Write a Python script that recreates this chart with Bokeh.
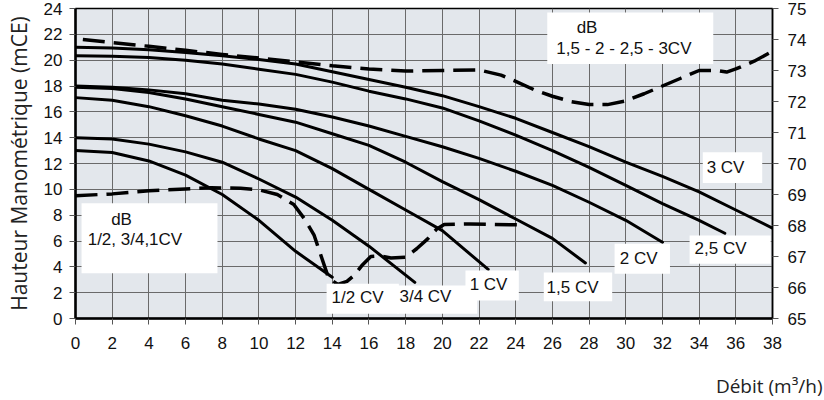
from bokeh.plotting import figure
from bokeh.models import Range1d, LinearAxis, Title, FixedTicker
from bokeh.core.properties import value
from bokeh.embed import file_html
from bokeh.resources import INLINE

# ---- Pump curves: débit (m3/h) -> hauteur (mCE) ----
q_05 = [0, 2, 4, 6, 8, 10, 12, 14]
h_05 = [13.0, 12.85, 12.2, 11.1, 9.6, 7.6, 5.2, 3.2]

q_075 = [0, 2, 4, 6, 8, 10, 12, 14, 16, 18.5]
h_075 = [14.0, 13.9, 13.5, 12.9, 12.1, 10.8, 9.4, 7.6, 5.6, 2.8]

q_1 = [0, 2, 4, 6, 8, 10, 12, 14, 16, 18, 20, 22.5]
h_1 = [17.1, 16.9, 16.4, 15.7, 14.9, 13.9, 13.0, 11.6, 10.0, 8.4, 6.8, 3.8]

q_15 = [0, 2, 4, 6, 8, 10, 12, 14, 16, 18, 20, 22, 24, 26, 27.8]
h_15 = [17.9, 17.8, 17.5, 17.0, 16.4, 15.8, 15.2, 14.3, 13.4, 12.1, 10.6, 9.2, 7.7, 6.2, 4.3]

q_2 = [0, 2, 4, 6, 8, 10, 12, 14, 16, 18, 20, 22, 24, 26, 28, 30, 32]
h_2 = [18.0, 17.9, 17.7, 17.4, 16.9, 16.6, 16.2, 15.6, 14.9, 14.1, 13.3, 12.4, 11.4, 10.3, 9.0, 7.6, 5.9]

q_25 = [0, 2, 4, 6, 8, 10, 12, 14, 16, 18, 20, 22, 24, 26, 28, 30, 32, 34, 35.4]
h_25 = [20.35, 20.3, 20.2, 20.0, 19.7, 19.3, 18.9, 18.3, 17.6, 17.0, 16.3, 15.3, 14.2, 13.0, 11.7, 10.3, 8.9, 7.6, 6.6]

q_3 = [0, 2, 4, 6, 8, 10, 12, 14, 16, 18, 20, 22, 24, 26, 28, 30, 32, 34, 36, 38, 38.8]
h_3 = [21.0, 20.95, 20.8, 20.6, 20.35, 20.05, 19.7, 19.1, 18.5, 17.9, 17.25, 16.4, 15.5, 14.4, 13.3, 12.1, 11.0, 9.8, 8.4, 7.0, 6.2]

# ---- Noise curves (dB) ----
q_db_small = [0, 2, 4, 6, 7.4, 9, 10, 11, 11.9, 12.5, 13.0, 13.4, 13.8, 14.3, 14.8, 15.2, 15.6, 16.1, 16.6, 17.2, 18, 18.6, 19.2, 19.7, 20.1, 21.5, 24.2]
db_small = [68.96, 69.02, 69.12, 69.18, 69.22, 69.2, 69.15, 69.0, 68.68, 68.2, 67.7, 67.0, 66.3, 66.1, 66.2, 66.4, 66.7, 67.0, 67.02, 66.95, 66.98, 67.25, 67.57, 67.89, 68.03, 68.05, 68.02]

q_db_big = [0.4, 2, 4, 6, 8, 10, 12, 14, 16, 18, 20, 22, 23.2, 24, 25, 26, 27, 28, 29, 30, 31, 32, 33, 34, 35, 35.5, 36, 37, 38, 39]
db_big = [74.0, 73.9, 73.78, 73.65, 73.52, 73.4, 73.28, 73.15, 73.05, 72.98, 73.0, 73.02, 72.85, 72.65, 72.38, 72.17, 72.0, 71.9, 71.9, 72.02, 72.25, 72.5, 72.75, 73.0, 73.0, 72.95, 73.05, 73.3, 73.62, 74.0]

x_ticks = list(range(0, 39, 2))
y_ticks = list(range(0, 25, 2))
db_ticks = list(range(65, 76))

curve_labels = ["1/2 CV", "3/4 CV", "1 CV", "1,5 CV", "2 CV", "2,5 CV", "3 CV"]
box_texts = ["dB", "1/2, 3/4,1CV", "dB", "1,5 - 2 - 2,5 - 3CV"]

FONT = "Liberation Sans"
TITLE_FONT = "Open Sans"

p = figure(width=824, height=400, x_range=Range1d(0, 38), y_range=Range1d(0, 24),
           output_backend="svg", toolbar_location=None, title=None,
           min_border_left=75, min_border_right=52, min_border_top=8, min_border_bottom=82)
p.border_fill_color = "white"
p.background_fill_color = "#e3e7ec"
p.outline_line_color = "black"
p.outline_line_width = 1.5

p.extra_y_ranges = {"db": Range1d(65, 75)}

# grid
p.xgrid.ticker = FixedTicker(ticks=x_ticks)
p.ygrid.ticker = FixedTicker(ticks=y_ticks)
for g in (p.xgrid, p.ygrid):
    g.grid_line_color = "#6a6a6a"
    g.grid_line_width = 1

# axes
bottom = p.xaxis[0]
left = p.yaxis[0]
bottom.ticker = FixedTicker(ticks=x_ticks)
left.ticker = FixedTicker(ticks=y_ticks)
right = LinearAxis(y_range_name="db", ticker=FixedTicker(ticks=db_ticks))
p.add_layout(right, "right")

for ax in (bottom, left, right):
    ax.major_label_text_font = FONT
    ax.major_label_text_font_size = "17px"
    ax.major_label_text_color = "#111111"
    ax.major_tick_in = 0
    ax.major_tick_out = 6
    ax.major_tick_line_color = "#555555"
    ax.minor_tick_line_color = None
    ax.axis_line_color = "black"
bottom.axis_line_width = 2.5
left.axis_line_width = 2.5
right.axis_line_width = 1.5
bottom.major_label_standoff = 12
left.major_label_standoff = 7
right.major_label_standoff = 9

left.axis_label = "Hauteur Manométrique (mCE)"
left.axis_label_text_font = TITLE_FONT
left.axis_label_text_font_size = "21px"
left.axis_label_text_font_style = "normal"
left.axis_label_text_color = "#222222"
left.axis_label_standoff = 8

# blank spacer label under the x axis, pushes the x title lower
bottom.axis_label = " "
bottom.axis_label_text_font_size = "12px"
bottom.axis_label_standoff = 0

# x title at bottom right
xt = Title(text="Débit (m³/h)", align="right", offset=-50, standoff=4,
           text_font=TITLE_FONT, text_font_size="19px", text_font_style="normal",
           text_color="#222222")
p.add_layout(xt, "below")

# pump curves
for qs, hs in [(q_05, h_05), (q_075, h_075), (q_1, h_1), (q_15, h_15),
               (q_2, h_2), (q_25, h_25), (q_3, h_3)]:
    p.line(qs, hs, line_color="black", line_width=3, line_join="round", line_cap="round")

# noise curves
p.line(q_db_small, db_small, y_range_name="db", line_color="black", line_width=3.5,
       line_dash="22 9", line_join="round")
p.line(q_db_big, db_big, y_range_name="db", line_color="black", line_width=3.5,
       line_dash="22 9", line_join="round")

# white label boxes
box_l = [0.33, 25.72, 34.2, 33.48, 29.39, 25.53, 21.26, 17.54, 13.69]
box_r = [7.74, 34.77, 37.44, 37.9, 32.41, 29.26, 24.17, 21.9, 17.63]
box_b = [3.51, 19.71, 10.5, 4.23, 3.46, 1.33, 1.39, 0.36, 0.36]
box_t = [8.92, 23.7, 12.87, 6.42, 5.78, 3.57, 3.72, 2.55, 2.69]
p.quad(left=box_l, right=box_r, bottom=box_b, top=box_t, fill_color="white", line_color=None)

lab_x = [15.38, 19.08, 22.52, 27.1, 30.7, 35.17, 35.44]
lab_y = [1.63, 1.70, 2.63, 2.4, 4.68, 5.42, 11.71]
p.text(x=lab_x, y=lab_y, text=curve_labels, text_font=value(FONT), text_font_size="17px",
       text_align="center", text_baseline="middle", text_color="#111111")

p.text(x=[2.51, 3.24, 27.89, 29.9], y=[7.70, 6.15, 22.56, 20.94], text=box_texts,
       text_font=value(FONT), text_font_size="17px",
       text_align="center", text_baseline="middle", text_color="#111111")

open("out.html", "w").write(file_html(p, INLINE))
